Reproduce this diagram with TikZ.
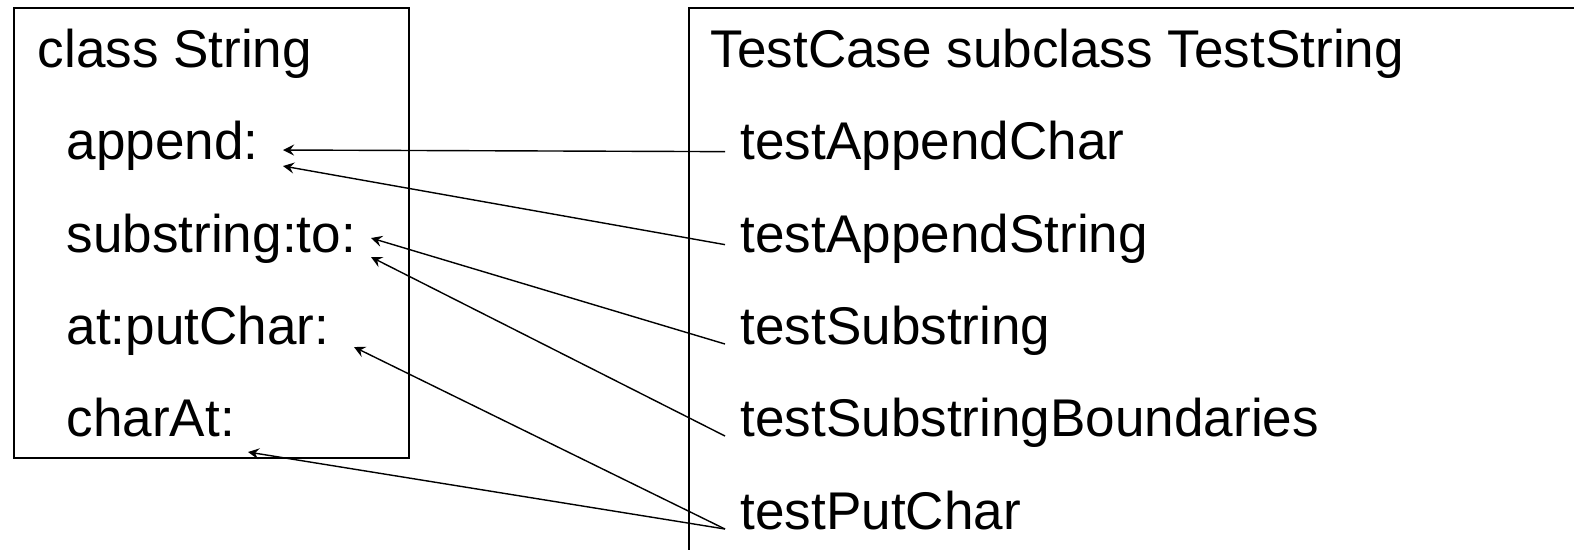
\documentclass[tikz,border=0pt]{standalone}
\usepackage{fontspec}
\setmainfont{Liberation Sans}
\begin{document}
\begin{tikzpicture}[>=stealth,
    txt/.style={anchor=base west,inner sep=0pt,font=\fontsize{15.1}{18}\selectfont},
    tst/.style={txt,inner xsep=0.15cm,text height=0.6em,text depth=0.18em}]
    \useasboundingbox (0,0) rectangle (15.74,-5.50);
    \draw[line width=0.6pt] (0.14,-0.08) rectangle (4.09,-4.58);
    \draw[line width=0.6pt] (15.74,-0.08) -- (6.89,-0.08) -- (6.89,-5.50);
    \node[txt] (cls) at (0.37,-0.67) {class String};
    \node[txt] (app) at (0.66,-1.59) {append:};
    \node[txt] (sub) at (0.66,-2.52) {substring:to:};
    \node[txt] (put) at (0.66,-3.44) {at:putChar:};
    \node[txt] (chr) at (0.66,-4.36) {charAt:};
    \node[txt] (tcs) at (7.10,-0.67) {TestCase subclass TestString};
    \node[tst] (tac) at (7.25,-1.59) {testAppendChar};
    \node[tst] (tas) at (7.25,-2.52) {testAppendString};
    \node[tst] (tsu) at (7.25,-3.44) {testSubstring};
    \node[tst] (tsb) at (7.25,-4.36) {testSubstringBoundaries};
    \node[tst] (tpc) at (7.25,-5.29) {testPutChar};
    \coordinate (app1) at (2.83,-1.50);
    \coordinate (app2) at (2.83,-1.66);
    \coordinate (sub1) at (3.71,-2.38);
    \coordinate (sub2) at (3.71,-2.57);
    \coordinate (put1) at (3.54,-3.47);
    \coordinate (chr1) at (2.48,-4.52);
    \draw[->] (tac.west) -- (app1);
    \draw[->] (tas.west) -- (app2);
    \draw[->] (tsu.base west) -- (sub1);
    \draw[->] (tsb.base west) -- (sub2);
    \draw[->] (tpc.base west) -- (put1);
    \draw[->] (tpc.base west) -- (chr1);
  \end{tikzpicture}
\end{document}
